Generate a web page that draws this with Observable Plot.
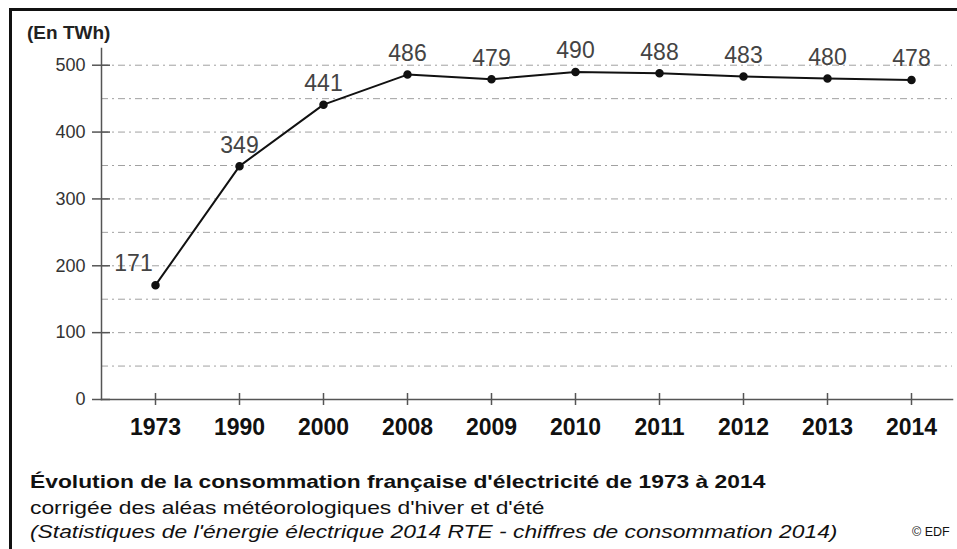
<!DOCTYPE html>
<html>
<head>
<meta charset="utf-8">
<script src="https://cdn.jsdelivr.net/npm/d3@7"></script>
<script src="https://cdn.jsdelivr.net/npm/@observablehq/plot@0.6"></script>
<style>
  html, body { margin: 0; padding: 0; background: #fff; }
  body { width: 957px; height: 549px; position: relative; overflow: hidden; font-family: "Liberation Sans", Arial, sans-serif; }
  #border { position: absolute; left: 9px; top: 8px; right: -10px; bottom: -10px; border-top: 3px solid #111; border-left: 3px solid #111; }
  #chart { position: absolute; left: 0; top: 0; }
  .unit { position: absolute; left: 27px; top: 22px; font-size: 19px; font-weight: bold; color: #222; }
  .cap { position: absolute; left: 30px; font-size: 19px; color: #111; transform: scaleX(1.2); transform-origin: left; white-space: nowrap; line-height: 1; }
  .t1 { top: 472px; font-weight: bold; }
  .t2 { top: 498px; }
  .t3 { top: 522px; font-style: italic; }
  .edf { position: absolute; left: 912px; top: 526px; font-size: 12.5px; color: #111; white-space: nowrap; line-height: 1; }
</style>
</head>
<body>
<div id="border"></div>
<div id="chart"></div>
<div class="unit">(En TWh)</div>
<div class="cap t1">Évolution de la consommation française d'électricité de 1973 à 2014</div>
<div class="cap t2">corrigée des aléas météorologiques d'hiver et d'été</div>
<div class="cap t3">(Statistiques de l'énergie électrique 2014 RTE - chiffres de consommation 2014)</div>
<div class="edf">© EDF</div>
<script>
const years = ["1973", "1990", "2000", "2008", "2009", "2010", "2011", "2012", "2013", "2014"];
const values = [171, 349, 441, 486, 479, 490, 488, 483, 480, 478];
const yTicks = [0, 100, 200, 300, 400, 500];
const gridValues = [50, 100, 150, 200, 250, 300, 350, 400, 450, 500];

const data = years.map((year, i) => ({year, value: values[i]}));
const firstLabel = data.slice(0, 1);
const otherLabels = data.slice(1);

const chart = Plot.plot({
  width: 957,
  height: 450,
  marginTop: 48,
  marginBottom: 51,
  marginLeft: 101,
  marginRight: 5,
  style: {fontFamily: "Liberation Sans, Arial, sans-serif", background: "transparent"},
  x: {type: "point", domain: years, padding: 0.545, align: 0.565},
  y: {domain: [0, 525]},
  marks: [
    Plot.ruleY(gridValues, {stroke: "#8a8a8a", strokeWidth: 1, strokeDasharray: "7,4,2,4", strokeOpacity: 0.8}),
    Plot.frame({anchor: "left", stroke: "#555", strokeWidth: 1.5}),
    Plot.frame({anchor: "bottom", stroke: "#555", strokeWidth: 1.5}),
    Plot.axisY({ticks: yTicks, tickSize: 18, dx: 9, tickFormat: () => "", stroke: "#555", strokeWidth: 1.5, label: null}),
    Plot.axisY({ticks: yTicks, tickSize: 0, tickPadding: 16, fontSize: 18, fill: "#333", label: null}),
    Plot.axisX({tickSize: 12, dy: -6, tickFormat: () => "", stroke: "#555", strokeWidth: 1.5, label: null}),
    Plot.axisX({tickSize: 0, tickPadding: 19, fontSize: 23, fontWeight: "bold", fill: "#111", label: null}),
    Plot.line(data, {x: "year", y: "value", stroke: "#111", strokeWidth: 2}),
    Plot.dot(data, {x: "year", y: "value", r: 3.5, fill: "#111", stroke: "#111"}),
    Plot.text(otherLabels, {x: "year", y: "value", text: d => String(d.value), dy: -21, fontSize: 23, fill: "#444"}),
    Plot.text(firstLabel, {x: "year", y: "value", text: d => String(d.value), dx: -22, dy: -22, fontSize: 23, fill: "#444"})
  ]
});
document.getElementById("chart").appendChild(chart);
</script>
</body>
</html>
